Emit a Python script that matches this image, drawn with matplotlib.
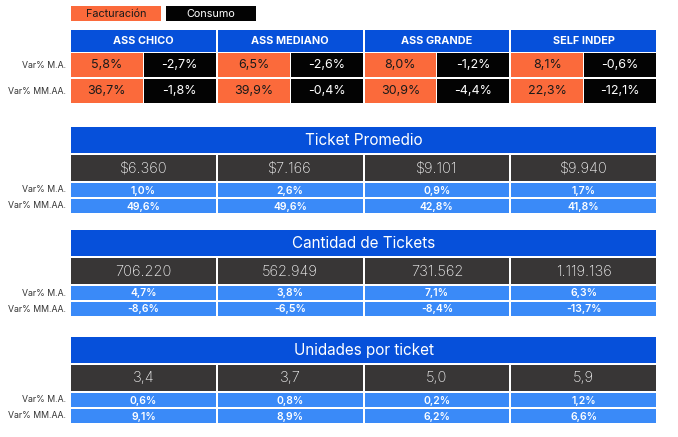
import matplotlib.pyplot as plt
from matplotlib.patches import Rectangle

plt.rcParams['font.family'] = ['Inter', 'DejaVu Sans']

# data
segmentos = ["ASS CHICO", "ASS MEDIANO", "ASS GRANDE", "SELF INDEP"]
fila_labels = ["Var% M.A.", "Var% MM.AA."]
facturacion_ma = ["5,8%", "6,5%", "8,0%", "8,1%"]
facturacion_mmaa = ["36,7%", "39,9%", "30,9%", "22,3%"]
consumo_ma = ["-2,7%", "-2,6%", "-1,2%", "-0,6%"]
consumo_mmaa = ["-1,8%", "-0,4%", "-4,4%", "-12,1%"]

secciones = ["Ticket Promedio", "Cantidad de Tickets", "Unidades por ticket"]
ticket_valor = ["$6.360", "$7.166", "$9.101", "$9.940"]
ticket_ma = ["1,0%", "2,6%", "0,9%", "1,7%"]
ticket_mmaa = ["49,6%", "49,6%", "42,8%", "41,8%"]
cant_valor = ["706.220", "562.949", "731.562", "1.119.136"]
cant_ma = ["4,7%", "3,8%", "7,1%", "6,3%"]
cant_mmaa = ["-8,6%", "-6,5%", "-8,4%", "-13,7%"]
unid_valor = ["3,4", "3,7", "5,0", "5,9"]
unid_ma = ["0,6%", "0,8%", "0,2%", "1,2%"]
unid_mmaa = ["9,1%", "8,9%", "6,2%", "6,6%"]

AZUL = "#0650DA"
NARANJA = "#FB6A3B"
NEGRO = "#030303"
GRIS = "#383636"
CELESTE = "#3A8AF8"

fig = plt.figure(figsize=(6.78, 4.37), dpi=100)
ax = fig.add_axes([0, 0, 1, 1])
ax.set_xlim(0, 678)
ax.set_ylim(437, 0)
ax.axis("off")

x0, x1 = 71, 656
gap = 2
colw = (x1 - x0 + gap) / 4


def celda(x, y, w, h, color, texto, tcolor="white", size=8, weight="normal"):
    ax.add_patch(Rectangle((x, y), w, h, facecolor=color, edgecolor="none"))
    ax.text(x + w / 2, y + h / 2 + 0.5, texto, color=tcolor, fontsize=size,
            ha="center", va="center", fontweight=weight)


def etiqueta(y, texto):
    ax.text(66, y, texto, ha="right", va="center", fontsize=6.3, color="#333333")


# leyenda
celda(71, 6, 90, 15, NARANJA, "Facturación", tcolor="#1a1a1a", size=7.8)
celda(166, 6, 90, 15, NEGRO, "Consumo", size=7.8)

# bloque superior
filas_top = [(53, 24, facturacion_ma, consumo_ma), (79, 24, facturacion_mmaa, consumo_mmaa)]
for i, seg in enumerate(segmentos):
    cx = x0 + i * colw
    w = colw - gap
    celda(cx, 30, w, 22, AZUL, seg, size=7.8, weight="bold")
    half = w / 2
    for y, h, fact, cons in filas_top:
        celda(cx, y, half - 0.5, h, NARANJA, fact[i], tcolor="#1a1a1a", size=9)
        celda(cx + half + 0.5, y, half - 0.5, h, NEGRO, cons[i], size=9)
for (y, h, _, _), lab in zip(filas_top, fila_labels):
    etiqueta(y + h / 2, lab)

# secciones
tops = [127, 230, 337]
valores = [ticket_valor, cant_valor, unid_valor]
vars_ma = [ticket_ma, cant_ma, unid_ma]
vars_mmaa = [ticket_mmaa, cant_mmaa, unid_mmaa]
for top, titulo, val, ma, mmaa in zip(tops, secciones, valores, vars_ma, vars_mmaa):
    celda(x0, top, x1 - x0, 26, AZUL, titulo, size=11)
    for i in range(4):
        cx = x0 + i * colw
        w = colw - gap
        celda(cx, top + 28, w, 26, GRIS, val[i], tcolor="#f2f2f2", size=10.5, weight="light")
        celda(cx, top + 56, w, 14, CELESTE, ma[i], size=7.5, weight="semibold")
        celda(cx, top + 72, w, 14, CELESTE, mmaa[i], size=7.5, weight="semibold")
    etiqueta(top + 63, fila_labels[0])
    etiqueta(top + 79, fila_labels[1])

fig.savefig("out.png", dpi=100)
